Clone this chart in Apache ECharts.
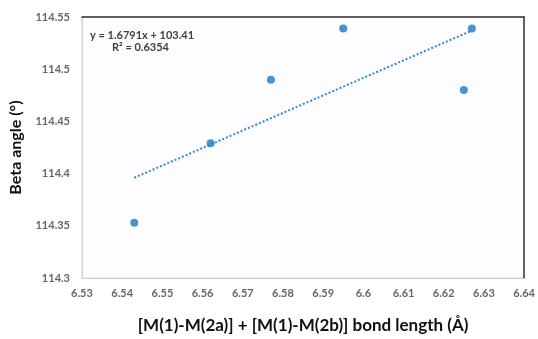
<!DOCTYPE html>
<html>
<head>
<meta charset="utf-8">
<script src="https://cdn.jsdelivr.net/npm/echarts@6/dist/echarts.min.js"></script>
<style>html,body{margin:0;padding:0;background:#fff}#c{width:538px;height:339px}</style>
</head>
<body>
<div id="c"></div>
<script>
// Data
const bondLength = [6.543, 6.562, 6.577, 6.595, 6.627, 6.625];
const betaAngle  = [114.353, 114.429, 114.490, 114.539, 114.539, 114.480];
// Linear trendline endpoints (y = 1.6791x + 103.41 evaluated at data x-range)
const trendX = [6.543, 6.627];
const trendY = [114.396, 114.537];
const xTicks = [6.53, 6.54, 6.55, 6.56, 6.57, 6.58, 6.59, 6.6, 6.61, 6.62, 6.63, 6.64];
const yTicks = [114.3, 114.35, 114.4, 114.45, 114.5, 114.55];
const eqLines = ['y = 1.6791x + 103.41', 'R\u00b2 = 0.6354'];

const chart = echarts.init(document.getElementById('c'));
const font = 'Lato, "Open Sans", sans-serif';
const tickFmt = v => (Math.round(v * 1000) / 1000).toString();
chart.setOption({
  animation: false,
  backgroundColor: '#ffffff',
  grid: { left: 73, top: 17, right: 12, bottom: 47, show: true, backgroundColor: '#fdfdff', borderColor: '#d9d9d9', borderWidth: 1 },
  xAxis: [{
    type: 'value', min: xTicks[0], max: xTicks[xTicks.length - 1], interval: 0.01,
    axisLine: { show: true, lineStyle: { color: '#d0d0d0' } },
    axisTick: { show: false }, splitLine: { show: false },
    axisLabel: { color: '#666', fontSize: 11, fontWeight: 'bold', fontFamily: font, margin: 10, formatter: tickFmt },
    name: '[M(1)-M(2a)] + [M(1)-M(2b)] bond length (\u00c5)',
    nameLocation: 'middle', nameGap: 39,
    nameTextStyle: { color: '#111', fontSize: 17, fontWeight: 'bold', fontFamily: font }
  }, {
    type: 'value', position: 'top', min: xTicks[0], max: xTicks[xTicks.length - 1],
    axisLine: { show: true, lineStyle: { color: '#3a2e2e', width: 1.5 } },
    axisTick: { show: false }, axisLabel: { show: false }, splitLine: { show: false }
  }],
  yAxis: [{
    type: 'value', min: yTicks[0], max: yTicks[yTicks.length - 1], interval: 0.05,
    axisLine: { show: true, lineStyle: { color: '#d0d0d0' } },
    axisTick: { show: false }, splitLine: { show: false },
    axisLabel: { color: '#666', fontSize: 11, fontWeight: 'bold', fontFamily: font, margin: 12, formatter: tickFmt },
    name: 'Beta angle (\u00b0)', nameLocation: 'middle', nameGap: 58,
    nameTextStyle: { color: '#111', fontSize: 16, fontWeight: 'bold', fontFamily: font }
  }, {
    type: 'value', position: 'right', min: yTicks[0], max: yTicks[yTicks.length - 1],
    axisLine: { show: true, lineStyle: { color: '#3a2e2e', width: 1.5 } },
    axisTick: { show: false }, axisLabel: { show: false }, splitLine: { show: false }
  }],
  series: [{
    type: 'scatter', symbol: 'circle', symbolSize: 8,
    itemStyle: { color: '#1a78c6' },
    data: bondLength.map((x, i) => [x, betaAngle[i]]),
    z: 3
  }, {
    type: 'line', symbol: 'none',
    lineStyle: { color: '#2e8ad6', width: 2, type: [2, 2] },
    data: trendX.map((x, i) => [x, trendY[i]]),
    z: 2
  }],
  graphic: [{
    type: 'text', left: 90, top: 30,
    style: { text: eqLines[0], fill: '#404040', font: 'bold 11px ' + font }
  }, {
    type: 'text', left: 112, top: 42,
    style: { text: eqLines[1], fill: '#404040', font: 'bold 11px ' + font }
  }]
});
</script>
</body>
</html>
